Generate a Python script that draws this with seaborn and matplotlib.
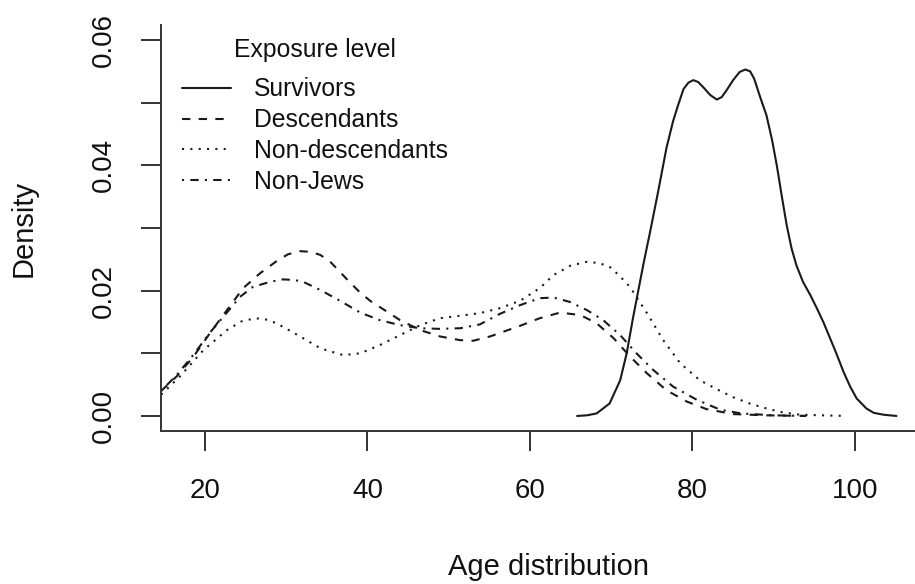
import matplotlib
matplotlib.use("Agg")
import matplotlib.pyplot as plt
import seaborn as sns
import pandas as pd

# ---------------- data ----------------
series_names = ["Survivors", "Descendants", "Non-descendants", "Non-Jews"]

survivors_age = [65.8, 67.0, 68.2, 69.8, 71.1, 71.9, 72.7, 74.0, 74.8, 75.8,
                 76.8, 77.6, 78.2, 78.9, 79.5, 80.1, 80.7, 81.3, 82.2, 83.0,
                 83.6, 84.2, 85.0, 85.8, 86.5, 87.1, 87.6, 88.3, 89.1, 89.8,
                 90.4, 91.0, 91.6, 92.2, 92.8, 93.6, 94.5, 95.3, 96.1, 96.9,
                 97.7, 98.6, 99.4, 100.2, 101.4, 102.3, 103.5, 105.1]
survivors_dens = [0.0000, 0.0001, 0.0004, 0.0020, 0.0057, 0.0100, 0.0158, 0.0245, 0.0295, 0.0360,
                  0.0428, 0.0470, 0.0495, 0.0522, 0.0532, 0.0536, 0.0533, 0.0525, 0.0512, 0.0505,
                  0.0509, 0.0520, 0.0536, 0.0549, 0.0553, 0.0550, 0.0538, 0.0510, 0.0480, 0.0440,
                  0.0398, 0.0350, 0.0304, 0.0267, 0.0240, 0.0214, 0.0193, 0.0172, 0.0150, 0.0125,
                  0.0100, 0.0070, 0.0047, 0.0028, 0.0012, 0.0005, 0.0002, 0.0000]

descendants_age = [14.6, 16.5, 18.6, 20.6, 22.7, 24.7, 26.8, 28.8, 30.2, 31.7,
                   33.0, 34.2, 35.5, 36.6, 38.0, 39.1, 40.3, 41.5, 44.0, 46.5,
                   48.9, 51.4, 53.0, 55.1, 57.5, 58.8, 61.2, 63.7, 66.2, 68.2,
                   70.3, 72.3, 74.4, 76.8, 79.3, 81.7, 85.0, 89.0, 94.0]
descendants_dens = [0.0040, 0.0063, 0.0095, 0.0132, 0.0169, 0.0204, 0.0228, 0.0247, 0.0258, 0.0263,
                    0.0262, 0.0257, 0.0245, 0.0230, 0.0211, 0.0197, 0.0184, 0.0174, 0.0153, 0.0137,
                    0.0127, 0.0121, 0.0120, 0.0127, 0.0138, 0.0144, 0.0156, 0.0165, 0.0161, 0.0148,
                    0.0124, 0.0095, 0.0068, 0.0041, 0.0023, 0.0011, 0.0003, 0.0001, 0.0000]

nondesc_age = [14.6, 16.9, 19.8, 22.7, 24.5, 26.2, 27.5, 28.8, 31.7, 34.2,
               37.0, 39.1, 41.5, 44.0, 46.5, 48.9, 51.4, 53.8, 56.3, 58.8,
               61.2, 62.9, 65.0, 67.0, 68.5, 69.8, 71.0, 72.3, 74.4, 76.4,
               78.5, 80.9, 83.4, 85.0, 87.0, 89.1, 91.0, 93.2, 96.0, 99.0]
nondesc_dens = [0.0034, 0.0063, 0.0105, 0.0137, 0.0151, 0.0156, 0.0154, 0.0148, 0.0127, 0.0108,
                0.0097, 0.0100, 0.0113, 0.0129, 0.0145, 0.0156, 0.0160, 0.0164, 0.0172, 0.0184,
                0.0204, 0.0225, 0.0240, 0.0246, 0.0244, 0.0238, 0.0224, 0.0206, 0.0164, 0.0121,
                0.0084, 0.0057, 0.0040, 0.0030, 0.0020, 0.0012, 0.0006, 0.0002, 0.0001, 0.0000]

nonjews_age = [14.6, 16.5, 18.6, 20.6, 22.7, 24.3, 25.9, 28.0, 29.6, 31.0,
               32.1, 34.2, 36.6, 39.1, 41.5, 44.0, 46.5, 48.9, 51.4, 53.8,
               56.3, 58.8, 61.2, 62.9, 64.9, 67.0, 69.0, 71.1, 73.1, 75.2,
               77.6, 80.5, 83.4, 86.0, 90.0, 94.0]
nonjews_dens = [0.0040, 0.0065, 0.0098, 0.0133, 0.0165, 0.0190, 0.0206, 0.0214, 0.0218, 0.0217,
                0.0214, 0.0201, 0.0184, 0.0165, 0.0153, 0.0145, 0.0140, 0.0139, 0.0140, 0.0146,
                0.0163, 0.0177, 0.0188, 0.0189, 0.0182, 0.0169, 0.0153, 0.0129, 0.0100, 0.0073,
                0.0047, 0.0026, 0.0010, 0.0004, 0.0001, 0.0000]

x_ticks = [20, 40, 60, 80, 100]
x_tick_labels = ["20", "40", "60", "80", "100"]
y_ticks = [0.00, 0.01, 0.02, 0.03, 0.04, 0.05, 0.06]
y_tick_labels = ["0.00", "", "0.02", "", "0.04", "", "0.06"]

legend_title = "Exposure level"
x_label = "Age distribution"
y_label = "Density"

# ---------------- styling ----------------
sns.set_theme(style="white")
plt.rcParams["font.family"] = ["Liberation Sans", "DejaVu Sans"]

line_color = "#1a1a1a"
axis_color = "#333333"
line_styles = {
    "Survivors": "-",
    "Descendants": (0, (4, 4)),
    "Non-descendants": (0, (1, 3)),
    "Non-Jews": (0, (1, 3, 4, 3)),
}

W, H = 915, 584
fig = plt.figure(figsize=(W / 100, H / 100), dpi=100)
ax = fig.add_axes([161 / W, 1 - 431 / H, (935 - 161) / W, (431 - 25) / H])

series = {
    "Survivors": (survivors_age, survivors_dens),
    "Descendants": (descendants_age, descendants_dens),
    "Non-descendants": (nondesc_age, nondesc_dens),
    "Non-Jews": (nonjews_age, nonjews_dens),
}

handles = []
for name in series_names:
    xs, ys = series[name]
    df = pd.DataFrame({"age": xs, "density": ys})
    sns.lineplot(data=df, x="age", y="density", ax=ax, color=line_color,
                 linestyle=line_styles[name], linewidth=1.5, estimator=None,
                 label=name, legend=False)
    ln = ax.lines[-1]
    ln.set_solid_joinstyle("round")
    ln.set_dash_joinstyle("round")
    handles.append(ln)

ax.set_xlim(14.585, 109.846)
ax.set_ylim(-0.0024, 0.0624)

ax.set_xticks(x_ticks)
ax.set_xticklabels(x_tick_labels)
ax.set_yticks(y_ticks)
ax.set_yticklabels(y_tick_labels)

ax.tick_params(axis="both", which="major", direction="out", length=14.5,
               width=1.4, color=axis_color, labelsize=20, labelcolor="#111111",
               bottom=True, left=True)
ax.tick_params(axis="x", pad=19)
ax.tick_params(axis="y", pad=17, labelrotation=90)
for lab in ax.get_yticklabels():
    lab.set_va("center")

for side in ["top", "right"]:
    ax.spines[side].set_visible(False)
for side in ["left", "bottom"]:
    ax.spines[side].set_color(axis_color)
    ax.spines[side].set_linewidth(1.4)

ax.set_xlabel(x_label, fontsize=21, color="#111111")
ax.set_ylabel(y_label, fontsize=21, color="#111111")
ax.xaxis.set_label_coords(0.5, (431 - 553) / 406)
ax.xaxis.label.set_va("top")
ax.yaxis.set_label_coords((38 - 161) / 774, 0.5)

fs = 17.8
leg = ax.legend(handles, series_names, title=legend_title, frameon=False,
                loc="upper left", bbox_to_anchor=(182 / W, 1 - 38 / H),
                bbox_transform=fig.transFigure, fontsize=fs,
                title_fontsize=fs, borderpad=0, borderaxespad=0,
                handlelength=2.0, handletextpad=0.9, labelspacing=0.28)
leg._legend_box.sep = 0.28 * fs + 6.0
for t in leg.get_texts():
    t.set_color("#111111")
leg.get_title().set_color("#111111")

fig.savefig("out.png", dpi=100, facecolor="white")
